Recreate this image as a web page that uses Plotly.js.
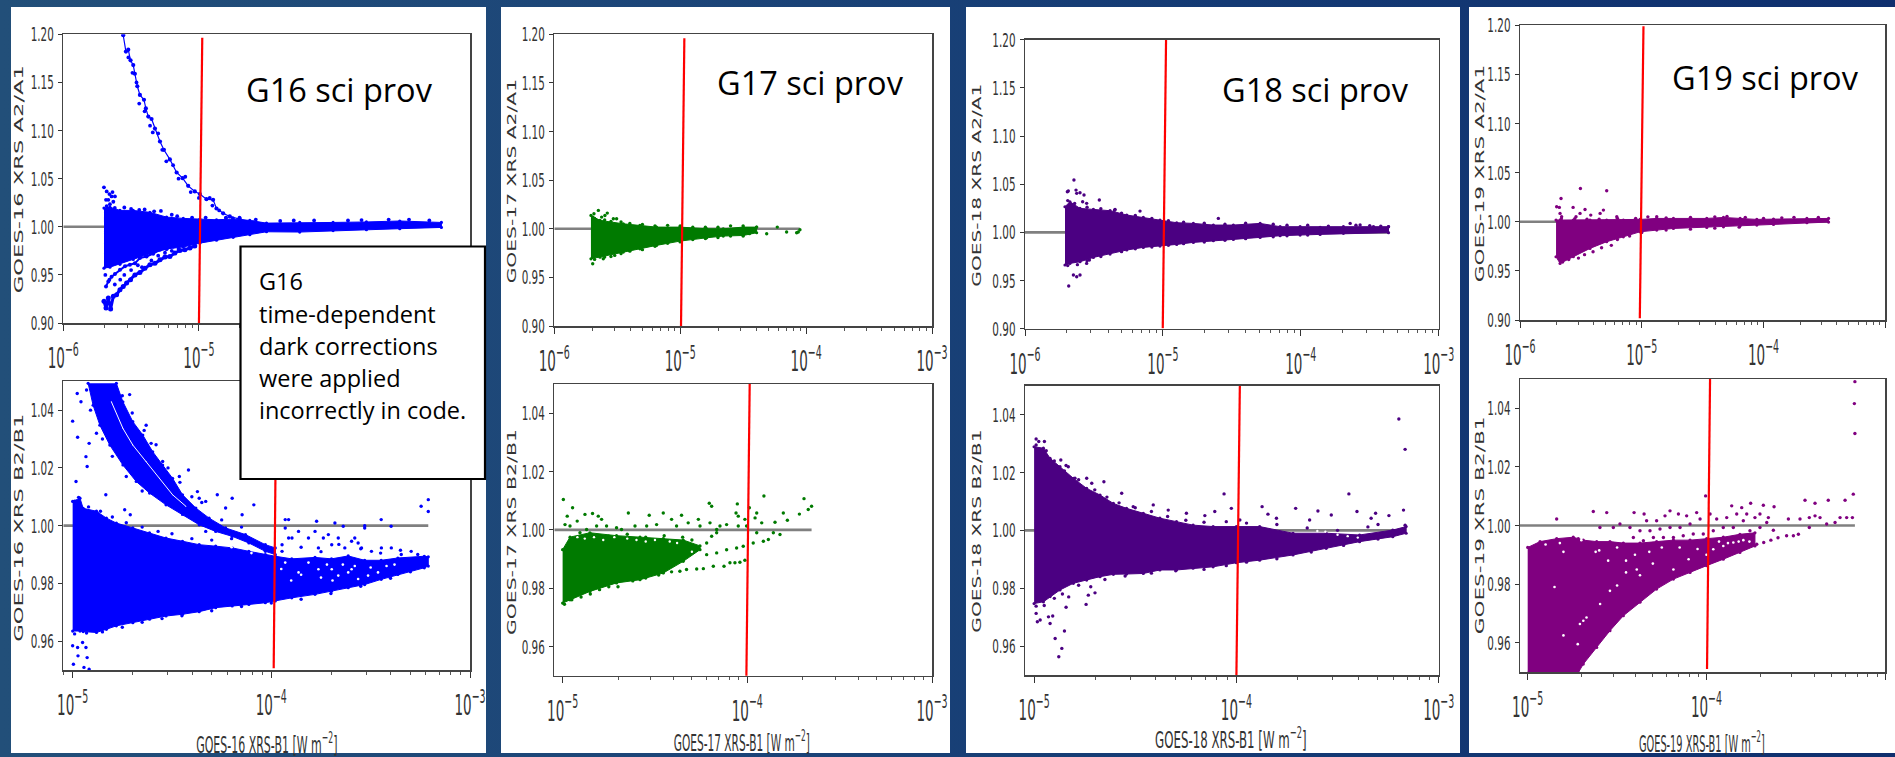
<!DOCTYPE html>
<html><head><meta charset="utf-8">
<script src="https://cdn.plot.ly/plotly-3.0.1.min.js"></script>
<style>html,body{margin:0;padding:0;width:1895px;height:757px;overflow:hidden;background:linear-gradient(90deg,#224f79 0%,#1c4578 35%,#143a74 65%,#0f2f6e 100%)}#c{width:1895px;height:757px}</style>
</head><body><div id="c"></div>
<script>
// ---- values (x as log10 of W m-2, y as ratio) ----
const g16aX=[-5.70,-5.656,-5.582,-5.484,-5.361,-5.238,-5.115,-4.993,-4.87,-4.747,-4.624,-4.501,-4.256,-4.01,-3.764,-3.518,-3.211];
const g16aHi=[1.0194,1.0204,1.017,1.017,1.015,1.010,1.0087,1.008,1.0073,1.008,1.0066,1.0038,1.0045,1.0045,1.005,1.006,1.0045];
const g16aLo=[.957,.958,.961,.966,.972,.977,.979,.983,.986,.989,.9917,.9948,.9945,.996,.9969,.998,.9993];
const g16aArmAX=[-5.70,-5.685,-5.668,-5.651,-5.631,-5.607,-5.582,-5.558,-5.533,-5.504,-5.472,-5.435,-5.398,-5.361,-5.324,-5.287,-5.25,-5.214,-5.177,-5.14,-5.103,-5.066,-5.03];
const g16aArmAY=[.9225,.9156,.926,.9145,.9277,.9294,.9346,.938,.9415,.945,.950,.9526,.957,.9606,.962,.9657,.9685,.969,.9727,.9754,.976,.978,.980];
const g16aArmBX=[-5.685,-5.668,-5.644,-5.619,-5.582,-5.545,-5.509,-5.472,-5.435,-5.386,-5.337,-5.287,-5.238,-5.189];
const g16aArmBY=[.938,.943,.948,.951,.9554,.959,.9606,.962,.9675,.969,.972,.976,.9768,.9796];
const g16aDotX=[-5.70,-5.68,-5.66,-5.637,-5.644,-5.619,-5.668,-5.631,-5.656,-5.685,-5.68,-5.62,-5.55,-5.5,-5.44,-5.4,-5.33,-5.28,-5.2,-5.16,-5.05,-4.95,-4.8,-4.7,-4.58,-4.4,-4.3,-4.15,-3.9,-3.8,-3.6,-3.45,-3.3,-5.69,-5.66,-5.62,-5.58,-5.55,-5.5,-5.45,-5.42,-5.35,-5.3,-5.25,-5.2,-5.15,-5.52,-5.49,-5.46,-5.44,-5.4,-5.36,-5.34,-5.3,-5.27,-5.24,-5.19,-5.15,-5.1,-5.06,-5,-4.92,-4.9,-4.85,-4.8,-4.75];
const g16aDotY=[1.041,1.0367,1.034,1.036,1.0315,1.0315,1.028,1.026,1.0235,1.028,1.0215,1.0195,1.02,1.0185,1.0175,1.018,1.016,1.0165,1.0125,1.011,1.0095,1.0095,1.0095,1.0095,1.0075,1.006,1.0065,1.0065,1.0065,1.007,1.0075,1.0075,1.0065,.95,.945,.94,.945,.95,.955,.96,.958,.965,.97,.973,.975,.977,1.176,1.16,1.15,1.128,1.12,1.105,1.098,1.097,1.08,1.068,1.064,1.05,1.052,1.036,1.03,1.03,1.022,1.017,1.009,1.009];
const g16aBranchX=[-5.558,-5.538,-5.521,-5.504,-5.484,-5.472,-5.454,-5.435,-5.405,-5.391,-5.373,-5.349,-5.324,-5.287,-5.258,-5.214,-5.164,-5.12,-5.079,-5.03,-4.993,-4.944,-4.895,-4.87,-4.821,-4.772,-4.698,-4.6];
const g16aBranchY=[1.199,1.182,1.184,1.173,1.168,1.159,1.146,1.137,1.132,1.123,1.1145,1.112,1.102,1.0886,1.080,1.070,1.0564,1.0505,1.0425,1.0367,1.034,1.0287,1.028,1.019,1.014,1.0107,1.008,1.0045];

const g16bX=[-5,-4.963,-4.947,-4.88,-4.83,-4.78,-4.697,-4.613,-4.53,-4.447,-4.363,-4.28,-4.197,-4.113,-4.03,-3.98,-3.897,-3.78,-3.697,-3.613,-3.53,-3.447,-3.363,-3.23,-3.21];
const g16bHi=[1.0084,1.0095,1.006,1.005,1.0026,1.0009,.9992,.9975,.9957,.9946,.9934,.9929,.9923,.9911,.99,.9894,.9885,.989,.9885,.9895,.988,.988,.9888,.9894,.9892];
const g16bLo=[.9635,.9635,.9633,.963,.9641,.9653,.9664,.9676,.9687,.9693,.9702,.9716,.9722,.9727,.9733,.9739,.975,.9762,.9773,.9785,.9796,.9814,.9831,.9854,.986];
const g16bBandUpX=[-4.78,-4.747,-4.697,-4.647,-4.597,-4.547,-4.497,-4.447,-4.38,-4.313,-4.23,-4.13,-4.03,-3.98];
const g16bBandUpY=[1.0493,1.0429,1.036,1.0314,1.0256,1.021,1.0164,1.0107,1.0061,1.0026,.9992,.9969,.9934,.9923];
const g16bBandLoX=[-4.922,-4.897,-4.863,-4.813,-4.747,-4.68,-4.613,-4.53,-4.447,-4.363,-4.28,-4.197,-4.113,-4.03,-3.98];
const g16bBandLoY=[1.0493,1.0417,1.0348,1.0279,1.021,1.0153,1.0113,1.0072,1.0038,1.0003,.998,.9963,.994,.9911,.99];
const g16bGapX=[-4.805,-4.747,-4.697,-4.63,-4.563,-4.497,-4.43];
const g16bGapY=[1.0429,1.0337,1.0279,1.0222,1.0164,1.0107,1.0067];
const g16bDotX=[-5,-4.975,-4.917,-4.933,-4.927,-4.983,-4.833,-4.958,-4.977,-4.738,-4.71,-4.63,-4.713,-4.605,-4.547,-4.417,-4.463,-4.372,-4.363,-4.33,-4.272,-4.197,-4.088,-4.147,-4.23,-3.93,-3.913,-3.772,-3.68,-3.638,-3.53,-3.447,-3.397,-3.246,-3.21,-3.21,-5,-4.975,-4.996,-4.973,-4.95,-4.933,-4.927,-4.943,-4.917,-3.93,-3.863,-3.896,-3.813,-3.78,-3.738,-3.713,-3.663,-3.596,-3.563,-3.58,-3.696,-3.63,-3.546,-3.496,-3.763,-3.946,-3.946,-3.913,-3.396,-3.446,-3.346,-3.296,-3.263,-3.53,-4.99,-4.97,-4.92,-4.86,-4.8,-4.73,-4.65,-4.57,-4.5,-4.4,-4.3,-4.99,-4.93,-4.85,-4.75,-4.65,-4.55,-4.45,-4.3,-4.15,-4,-3.85,-3.7,-3.55,-3.4,-3.3,-4.93,-4.91,-4.88,-4.85,-4.8,-4.73,-4.65,-4.75,-4.7,-4.64,-4.58,-4.52,-4.46,-4.4,-4.35,-4.25,-4.15,-4.33,-4.2,-3.85,-3.75,-3.66,-3.55,-3.45,-3.35];
const g16bDotY=[1.0362,1.0306,1.0285,1.0239,1.0205,1.0153,1.0107,1.0429,1.0458,1.0055,1.0038,1.0348,1.0454,1.0285,1.0222,1.0193,1.017,1.0118,1.0095,1.0084,1.0107,1.0095,1.0072,1.0038,1.0061,1.0021,1.0021,1.0015,1.0009,.9998,1.0,1.0021,.9998,1.0067,1.009,1.0049,.9584,.9578,.952,.9549,.9595,.9578,.9543,.9509,.9503,.9992,.998,.9957,.9957,.998,.9957,.9969,.9957,.9946,.994,.9957,.9934,.9923,.9923,.9911,.9923,.9934,.9911,.9957,.9923,.9923,.99,.9911,.99,.9992,1.0085,1.0098,1.0065,1.005,1.003,1.001,.9995,.998,.9972,.9955,.995,.9625,.9628,.9632,.9648,.9665,.9678,.9688,.9705,.972,.9732,.9745,.9765,.979,.9818,.984,1.047,1.04,1.032,1.03,1.024,1.017,1.012,1.045,1.039,1.033,1.028,1.02,1.015,1.01,1.008,1.002,.9995,.998,.9955,.9925,.991,.9935,.992,.9905,.9915];
const g16bHoleX=[-3.692,-3.663,-3.613,-3.563,-3.513,-3.463,-3.93,-3.863,-3.813,-3.763,-3.696,-3.596,-3.95,-3.9,-3.85,-3.75,-3.72,-3.64,-3.58,-3.5,-3.42,-3.38,-4.2,-4.1,-4.35,-4.45];
const g16bHoleY=[.981,.9827,.9838,.9815,.9827,.9838,.9872,.9838,.9872,.9849,.9849,.9849,.985,.981,.983,.982,.9865,.9865,.986,.9855,.986,.9865,.9925,.9905,.998,1.003];

const g17aX=[-5.709,-5.637,-5.452,-5.32,-5.188,-5.002,-4.79,-4.658,-4.5,-4.393];
const g17aHi=[1.0137,1.0086,1.0051,1.0034,1.0017,1.0017,1.0,1.0,1.0017,1.0017];
const g17aLo=[.9691,.9708,.976,.9794,.9829,.9873,.9907,.9925,.9931,.9959];
const g17aDotX=[-5.695,-5.685,-5.65,-5.598,-5.579,-5.611,-5.531,-5.505,-5.664,-5.624,-5.695,-5.611,-5.52,-4.393,-4.313,-4.229,-4.155,-4.075,-4.049,-4.062,-4.446,-5.68,-5.6,-5.55,-5.47,-5.4,-5.3,-5.2,-5.1,-5,-4.9,-4.8,-4.7,-4.6,-4.5,-5.68,-5.6,-5.55,-5.47,-5.4,-5.3,-5.2,-5.1,-5,-4.9,-4.8,-4.7,-4.6,-4.5,-4.45];
const g17aDotY=[1.012,1.0154,1.0189,1.0137,1.0161,1.0069,1.0103,1.0103,1.0086,1.012,.964,.9691,.9726,1.0017,.9949,1.0017,.9966,.9959,.999,.9966,.999,1.0105,1.009,1.0075,1.007,1.0055,1.0045,1.003,1.0035,1.003,1.0015,1.0015,1.0015,1.003,1.003,.9685,.971,.9715,.9745,.977,.9785,.982,.985,.9865,.989,.99,.991,.9925,.9925,.995];

const g17bX=[-5,-4.96,-4.852,-4.708,-4.581,-4.455,-4.347,-4.256];
const g17bHi=[.9932,.9975,.999,.998,.9975,.997,.9965,.9945];
const g17bLo=[.9749,.976,.9789,.9818,.9829,.9852,.9892,.9932];
const g17bDotX=[-4.996,-4.946,-4.975,-4.987,-4.96,-4.921,-4.879,-4.838,-4.807,-4.789,-4.906,-4.87,-4.816,-4.762,-4.708,-4.681,-4.644,-4.608,-4.531,-4.545,-4.455,-4.491,-4.41,-4.356,-4.383,-4.32,-4.265,-4.256,-4.202,-4.193,-4.206,-4.148,-4.166,-4.112,-4.049,-4.054,-4.061,-4.049,-3.989,-4.013,-4.004,-3.949,-3.958,-3.922,-3.91,-3.85,-3.805,-3.783,-3.718,-3.693,-3.67,-3.652,-3.949,-3.913,-3.859,-3.823,-3.886,-3.968,-4.022,-4.058,-4.112,-4.166,-4.22,-4.455,-4.41,-4.365,-4.329,-4.274,-4.238,-4.184,-4.126,-4.094,-4.067,-4.04,-4.013,-4.22,-4.193,-4.166,-4.9,-4.85,-4.75,-4.65,-4.55,-4.45,-4.35,-4.3,-4.99,-4.95,-4.9,-4.85,-4.8,-4.75,-4.7,-4.62,-4.55,-4.48];
const g17bDotY=[1.0104,1.0076,1.0047,1.0018,1.0013,1.003,1.0053,1.0056,1.0047,1.0036,.999,1.0001,1.0013,1.0013,1.0007,1.0001,1.0058,1.0013,1.005,1.0013,1.0058,1.0018,1.0036,1.005,1.0013,1.0024,1.0036,1.0013,1.0024,1.0081,1.0091,1.0013,1.0001,1.0018,1.0013,1.0089,1.0058,1.0047,1.0076,1.0036,1.0013,1.0058,1.0041,1.0024,1.0116,1.0026,1.0058,1.0033,1.0054,1.0107,1.007,1.0081,.999,.9961,.999,.9984,.9967,.9955,.9944,.9938,.9932,.9921,.9915,.9854,.9856,.9858,.9864,.9866,.9867,.9875,.9875,.9887,.9887,.9889,.9896,.9955,.9978,.999,.9975,.997,.9978,.9985,.9975,.998,.9975,.9965,.9745,.976,.977,.978,.9795,.9805,.9805,.9825,.9835,.9845];
const g17bHoleX=[-4.92,-4.88,-4.83,-4.78,-4.72,-4.65,-4.6,-4.55,-4.5,-4.42,-4.38,-4.3];
const g17bHoleY=[.9975,.997,.9975,.9965,.9975,.997,.9965,.996,.9965,.996,.9955,.9925];

const g18aX=[-5.71,-5.674,-5.601,-5.504,-5.383,-5.262,-5.142,-5.021,-4.9,-4.779,-4.634,-4.489,-4.295,-4.15,-4.005,-3.86,-3.691,-3.364];
const g18aHi=[1.0266,1.0318,1.0249,1.0239,1.0225,1.018,1.0156,1.0128,1.01,1.0093,1.0076,1.0076,1.0093,1.0059,1.0059,1.0052,1.0059,1.0059];
const g18aLo=[.9661,.9678,.9695,.974,.9775,.9817,.9844,.9858,.9875,.9896,.9913,.9927,.9948,.9965,.9972,.9979,.999,.9997];
const g18aDotX=[-5.686,-5.645,-5.693,-5.63,-5.625,-5.601,-5.572,-5.582,-5.553,-5.461,-5.347,-5.166,-4.598,-3.364,-3.473,-3.642,-3.57,-5.649,-5.625,-5.601,-5.683,-5.553,-5.533,-5.69,-5.64,-5.55,-5.45,-5.35,-5.3,-5.2,-5.08,-4.96,-4.85,-4.7,-4.55,-4.4,-4.2,-4.1,-3.95,-3.8,-3.6,-3.5,-3.42,-5.69,-5.62,-5.55,-5.45,-5.3,-5.2,-5.08,-4.96,-4.85,-4.7,-4.55,-4.4,-4.2,-4.1,-3.95];
const g18aDotY=[1.0429,1.0543,1.0422,1.0439,1.0405,1.0412,1.0388,1.0318,1.0301,1.0336,1.0239,1.0221,1.0145,1.0059,1.0059,1.0093,1.0076,.9557,.954,.9557,.9443,.9678,.9713,1.033,1.03,1.026,1.0245,1.023,1.02,1.0175,1.0145,1.012,1.0105,1.0095,1.0085,1.0095,1.0085,1.0075,1.0075,1.0065,1.0075,1.007,1.0065,.9655,.9665,.9705,.975,.98,.983,.9848,.9865,.9883,.99,.9918,.9935,.9955,.9965,.9973];

const g18bX=[-5,-4.954,-4.921,-4.872,-4.806,-4.74,-4.674,-4.608,-4.543,-4.46,-4.378,-4.296,-4.214,-4.115,-4,-3.885,-3.72,-3.556,-3.391,-3.227,-3.161];
const g18bHi=[1.0289,1.0284,1.0249,1.022,1.018,1.0145,1.0122,1.0093,1.0076,1.0059,1.0042,1.003,1.0018,1.0013,1.0013,1.0013,.999,.999,.9984,1.0001,1.0013];
const g18bLo=[.9747,.9753,.9771,.9794,.9817,.9828,.984,.9848,.9849,.9851,.9863,.9863,.9869,.9874,.9888,.9897,.9915,.9938,.9961,.9978,.999];
const g18bDotX=[-4.99,-4.977,-4.949,-4.951,-4.868,-4.842,-4.831,-4.798,-4.74,-4.715,-4.655,-4.567,-4.51,-4.411,-4.337,-4.247,-4.156,-4.107,-4.061,-4.025,-3.983,-3.873,-3.844,-3.802,-3.707,-3.597,-3.531,-3.404,-3.444,-3.312,-3.246,-3.197,-3.166,-3.174,-3.166,-3.334,-3.638,-4.99,-4.97,-4.984,-4.929,-4.921,-4.908,-4.896,-4.85,-4.842,-4.829,-4.863,-4.878,-4.743,-4.732,-4.72,-4.699,-4.99,-4.94,-4.9,-4.85,-4.78,-4.7,-4.64,-4.58,-4.5,-4.42,-4.34,-4.25,-4.16,-4.05,-3.95,-3.8,-3.65,-3.5,-3.35,-3.3,-4.99,-4.95,-4.9,-4.86,-4.78,-4.65,-4.55,-4.42,-4.3,-4.16,-4.05,-3.95,-3.8,-3.63,-3.47,-3.3];
const g18bDotY=[1.0316,1.0307,1.0307,1.0272,1.0243,1.0224,1.022,1.018,1.018,1.0163,1.0168,1.0128,1.0082,1.0088,1.007,1.0059,1.0051,1.0065,1.0126,1.0076,1.0036,1.0082,1.0056,1.0042,1.0076,1.0067,1.0053,1.0065,1.0126,1.0059,1.0051,1.0385,1.028,1.007,1.0018,1.0042,1.0036,.9713,.969,.9684,.9701,.9678,.9704,.9626,.9652,.9734,.977,.9592,.9563,.9744,.9776,.9805,.9784,1.0295,1.0275,1.024,1.0205,1.0175,1.014,1.0115,1.0095,1.0078,1.0065,1.0048,1.0035,1.0028,1.003,1.0025,1.002,1.0008,1.0,1.0012,1.002,.9738,.974,.9765,.978,.981,.983,.9842,.9852,.986,.9865,.9878,.989,.9902,.9925,.9948,.997];
const g18bHoleX=[-3.6,-3.56,-3.5,-3.45,-3.4];
const g18bHoleY=[.9998,.9995,.9985,.998,.9975];

const g19aX=[-5.704,-5.671,-5.562,-5.425,-5.288,-5.151,-5.014,-4.877,-4.74,-4.466,-4.329,-4.192,-4.055,-3.918,-3.644,-3.466];
const g19aHi=[1.0017,1.0017,1.0017,1.0017,1.0017,1.0017,1.0024,1.0034,1.0034,1.0034,1.0044,1.0034,1.0024,1.0027,1.0034,1.0034];
const g19aLo=[.9644,.9576,.9644,.9729,.9797,.9847,.9898,.9915,.9932,.9942,.9949,.9959,.9966,.9973,.999,.9997];
const g19aDotX=[-5.699,-5.677,-5.663,-5.671,-5.658,-5.504,-5.564,-5.466,-5.507,-5.54,-5.419,-5.342,-5.315,-5.288,-5.205,-4.877,-5.66,-5.55,-5.45,-5.35,-5.2,-5.05,-4.95,-4.8,-4.6,-4.4,-4.3,-4.15,-4,-3.85,-3.75,-3.55,-5.65,-5.6,-5.52,-5.47,-5.4,-5.33,-5.25,-5.2,-5.1,-5,-4.8,-4.6,-4.4,-4.2];
const g19aDotY=[1.0153,1.0146,1.0237,1.0085,1.0051,1.0339,1.0146,1.0125,1.0085,1.0051,1.0068,1.0085,1.0119,1.0315,1.0051,1.0051,1.003,1.003,1.0025,1.0025,1.0035,1.0035,1.005,1.004,1.0045,1.005,1.0055,1.0045,1.0035,1.004,1.0045,1.0045,.959,.9615,.963,.9665,.9695,.9735,.976,.982,.9855,.989,.9915,.9925,.9935,.9945];

const g19bX=[-5,-4.931,-4.838,-4.745,-4.717,-4.689,-4.614,-4.54,-4.465,-4.372,-4.279,-4.185,-4.092,-3.999,-3.906,-3.813,-3.729];
const g19bHi=[.9925,.9945,.9955,.996,.9955,.995,.9945,.9945,.994,.994,.9945,.995,.995,.9955,.996,.997,.9975];
const g19bLo=[.9495,.9495,.9495,.9495,.9498,.9527,.9584,.9641,.9692,.9738,.9783,.9817,.984,.9863,.9885,.9908,.993];
const g19bDotX=[-4.838,-4.633,-4.558,-4.405,-4.349,-4.335,-4.279,-4.204,-4.232,-4.157,-4.111,-4.055,-4.005,-3.98,-3.859,-3.803,-3.753,-3.682,-3.622,-3.449,-3.393,-3.319,-3.225,-3.179,-3.173,-3.17,-3.17,-3.216,-3.253,-3.184,-3.365,-3.425,-3.393,-3.542,-3.477,-3.626,-3.552,-3.514,-3.486,-3.425,-3.328,-3.281,-3.719,-3.701,-3.654,-3.729,-3.775,-3.831,-3.887,-3.943,-4.036,-4.092,-4.148,-4.204,-4.26,-4.316,-4.372,-4.428,-4.484,-4.521,-4.596,-3.906,-3.85,-3.794,-3.757,-3.701,-3.663,-3.962,-4.018,-4.074,-4.13,-4.185,-4.241,-4.297,-4.353,-4.409,-3.68,-3.64,-3.6];
const g19bDotY=[1.0022,1.0048,1.0044,1.0044,1.0039,1.0016,1.0016,1.005,1.0033,1.0039,1.0033,1.0044,1.0101,1.0039,1.0067,1.0061,1.0076,1.0069,1.0064,1.0086,1.0076,1.0086,1.0086,1.0107,1.0416,1.0314,1.0491,1.0027,1.0027,1.0027,1.0027,1.0027,1.0033,1.0022,1.0022,.9984,.9965,.9965,.997,.9993,1.0005,1.001,.9936,1.0039,1.0027,1.0027,1.0039,1.0039,1.0027,1.0022,1.0022,1.0005,.9993,.9993,.9988,.9982,.9982,.9993,1.0005,.9993,.9993,.9993,.9993,1.0016,.9982,.9993,1.001,.9982,.9971,.9971,.9965,.9959,.9959,.9959,.9948,.9959,.9942,.995,.9958];
const g19bHoleX=[-4.708,-4.689,-4.671,-4.595,-4.54,-4.5,-4.372,-4.39,-4.185,-3.962,-3.906,-3.85,-3.794,-4.3,-4.45,-4.8,-4.6,-4.55,-4.45,-4.4,-4.32,-4.25,-4.15,-4.1,-4.05,-4,-3.93,-3.88,-3.82,-3.76,-4.9,-4.82,-4.7,-4.62,-4.5,-4.85,-4.8,-4.72];
const g19bHoleY=[.9664,.9675,.9686,.9732,.9777,.9795,.983,.985,.985,.9919,.993,.9942,.995,.987,.984,.991,.9915,.988,.988,.99,.991,.9925,.9925,.9885,.992,.99,.9945,.994,.9945,.9945,.9935,.994,.995,.991,.9925,.979,.9625,.9595];

const refLineLogX=[[-4.975,-5.0],[-3.975,-3.988],[-4.967,-4.994],[-3.987,-4.005],[-4.977,-5.001],[-3.983,-4.0],[-4.986,-5.016],[-3.98,-3.997]];
const refLineY=[[1.1965,.893],[1.0493,.9506],[1.196,.8954],[1.0505,.9497],[1.202,.9004],[1.05,.9494],[1.199,.9017],[1.0507,.951]];
const unityStart=[-6,-5.047,-6,-5.045,-6,-5.045,-6,-5.043];
const unityEnd=[-3.21,-3.21,-4.05,-3.652,-3.364,-3.161,-3.466,-3.17];
const yTicksTop=[.90,.95,1.00,1.05,1.10,1.15,1.20];
const yTicksBottom=[.96,.98,1.00,1.02,1.04];
const sats=['GOES-16','GOES-17','GOES-18','GOES-19'];
const colours=['#0000ff','#007a00','#4b0082','#800080'];

// ---- geometry ----
const W=1895,H=757;
const boxes=[[63.3,470,34.3,323],[63.3,470,381.3,670],[554.3,932,34.3,326],[554.3,932,384,675.7],[1025,1438.7,39.7,328.7],[1025,1438.7,385.7,675],[1520,1885.3,25.3,320],[1520,1885.3,379,672]];
const sheets=[[11,486],[501,950],[966,1460],[1469,1895]];
const px=v=>v/W, py=v=>1-v/H;
const ten=a=>a.map(v=>Math.pow(10,v));

const traces=[];
function ax(i){return {xaxis:'x'+(i===0?'':i+1),yaxis:'y'+(i===0?'':i+1)};}
function unity(i){traces.push({...ax(i),x:ten([unityStart[i],unityEnd[i]]),y:[1,1],mode:'lines',line:{color:'#808080',width:2.6}});}
function poly(i,c,x,y,m){traces.push({...ax(i),x:ten(x),y:y,mode:m?'lines+markers':'lines',fill:'toself',fillcolor:c,line:{color:c,width:1},marker:{color:c,size:3.2}});}
function cloud(i,c,x,hi,lo){poly(i,c,x.concat(x.slice().reverse()),hi.concat(lo.slice().reverse()),true);}
function dots(i,c,x,y,s){traces.push({...ax(i),x:ten(x),y:y,mode:'markers',marker:{color:c,size:s||3.4}});}
function chain(i,c,x,y,w,s){traces.push({...ax(i),x:ten(x),y:y,mode:'lines+markers',line:{color:c,width:w},marker:{color:c,size:s}});}
function red(i){traces.push({...ax(i),x:ten(refLineLogX[i]),y:refLineY[i],mode:'lines',line:{color:'#ff0000',width:2.2},cliponaxis:false});}

// G16 A
unity(0);cloud(0,colours[0],g16aX,g16aHi,g16aLo);chain(0,colours[0],g16aArmAX,g16aArmAY,3,5);chain(0,colours[0],g16aArmBX,g16aArmBY,2,4);dots(0,colours[0],g16aDotX,g16aDotY,3.8);chain(0,colours[0],g16aBranchX,g16aBranchY,1.2,4.2);red(0);
// G16 B
unity(1);cloud(1,colours[0],g16bX,g16bHi,g16bLo);poly(1,colours[0],g16bBandUpX.concat(g16bBandLoX.slice().reverse()),g16bBandUpY.concat(g16bBandLoY.slice().reverse()),true);chain(1,'#ffffff',g16bGapX,g16bGapY,1,1);dots(1,colours[0],g16bDotX,g16bDotY);dots(1,'#ffffff',g16bHoleX,g16bHoleY,2.6);red(1);
// G17 A
unity(2);cloud(2,colours[1],g17aX,g17aHi,g17aLo);dots(2,colours[1],g17aDotX,g17aDotY);red(2);
// G17 B
unity(3);cloud(3,colours[1],g17bX,g17bHi,g17bLo);dots(3,colours[1],g17bDotX,g17bDotY);dots(3,'#ffffff',g17bHoleX,g17bHoleY,2.4);red(3);
// G18 A
unity(4);cloud(4,colours[2],g18aX,g18aHi,g18aLo);dots(4,colours[2],g18aDotX,g18aDotY);red(4);
// G18 B
unity(5);cloud(5,colours[2],g18bX,g18bHi,g18bLo);dots(5,colours[2],g18bDotX,g18bDotY);dots(5,'#ffffff',g18bHoleX,g18bHoleY,2.4);red(5);
// G19 A
unity(6);cloud(6,colours[3],g19aX,g19aHi,g19aLo);dots(6,colours[3],g19aDotX,g19aDotY);red(6);
// G19 B
unity(7);cloud(7,colours[3],g19bX,g19bHi,g19bLo);dots(7,colours[3],g19bDotX,g19bDotY);dots(7,'#ffffff',g19bHoleX,g19bHoleY,2.6);red(7);

const yTickFont={family:'DejaVu Sans',size:20,color:'#333'};
const xTickFont={family:'DejaVu Sans',size:23,color:'#333'};
const layout={width:W,height:H,margin:{l:0,r:0,t:0,b:0},paper_bgcolor:'rgba(0,0,0,0)',plot_bgcolor:'rgba(0,0,0,0)',showlegend:false,hovermode:false,shapes:[],annotations:[]};
const lefts=[-6,-5.047,-6,-5.045,-6,-5.045,-6,-5.043];
boxes.forEach((b,i)=>{
  const s=i===0?'':i+1;
  layout['xaxis'+s]={type:'log',domain:[px(b[0]),px(b[1])],range:[lefts[i],-3],anchor:'y'+s,dtick:1,exponentformat:'power',showgrid:false,zeroline:false,showline:true,mirror:true,linecolor:'#444',linewidth:1.5,ticks:'outside',ticklen:6,tickcolor:'#333',tickwidth:1,tickfont:xTickFont,ticklabelstandoff:4,minor:{ticks:'outside',ticklen:3,tickcolor:'#555',tickwidth:1,dtick:'D1',showgrid:false}};
  layout['yaxis'+s]={domain:[py(b[3]),py(b[2])],range:i%2?[.95,1.05]:[.90,1.20],anchor:'x'+s,tickvals:i%2?yTicksBottom:yTicksTop,tickformat:'.2f',showgrid:false,zeroline:false,showline:true,mirror:true,linecolor:'#444',linewidth:1.5,ticks:'outside',ticklen:4,tickcolor:'#333',tickwidth:1,tickfont:yTickFont};
});
sheets.forEach(s=>layout.shapes.push({type:'rect',xref:'paper',yref:'paper',x0:px(s[0]),x1:px(s[1]),y0:py(753),y1:py(7),fillcolor:'#ffffff',line:{width:0},layer:'below'}));
layout.shapes.push({type:'rect',xref:'paper',yref:'paper',x0:px(240.5),x1:px(485),y0:py(479),y1:py(246.5),fillcolor:'#ffffff',line:{color:'#000',width:2.2},layer:'above'});

const scales=[];
function note(text,x,y,size,fam,sx,opts){layout.annotations.push(Object.assign({text:text,xref:'paper',yref:'paper',x:px(x),y:py(y),xanchor:'center',yanchor:'middle',showarrow:false,font:{family:fam,size:size,color:'#000'}},opts||{}));scales.push(sx);}
// panel captions
const capX=[339.5,810,1315,1765],capY=[89,82,89,77];
['G16 sci prov','G17 sci prov','G18 sci prov','G19 sci prov'].forEach((t,i)=>note(t,capX[i],capY[i],32.5,'Open Sans',1));
// text box
[['G16',281],['time-dependent',314],['dark corrections',346],['were applied',378],['incorrectly in code.',410]].forEach(l=>note(l[0],257,l[1],23.5,'Open Sans',1,{xanchor:'left'}));
// y titles
const ytX=[18.7,18.5,510.7,510.7,975.7,975.7,1479,1479],ytY=[179,527.7,181,532,185,531,174,526],ytS=[1.74,1.74,1.56,1.57,1.55,1.55,1.66,1.66];
boxes.forEach((b,i)=>{const n=sats[i>>1];note(n+' XRS '+(i%2?'B2/B1':'A2/A1'),ytX[i],ytY[i],13,'DejaVu Sans',ytS[i],{textangle:-90,font:{family:'DejaVu Sans',size:13,color:'#333'}});});
// x titles
const xtX=[267,742,1231,1702],xtY=[743,741,738,741.7],xtS=[.478,.461,.513,.426];
sats.forEach((n,i)=>note(n+' XRS-B1 [W m<sup>−2</sup>]',xtX[i],xtY[i],23,'DejaVu Sans',xtS[i],{font:{family:'DejaVu Sans',size:23,color:'#333'}}));

function squeeze(t,sx){const x=+(t.getAttribute('x')||0),y=+(t.getAttribute('y')||0),old=t.getAttribute('transform')||'';t.setAttribute('transform',old+' translate('+x+' '+y+') scale('+sx+' 1) translate('+(-x)+' '+(-y)+')');}
Plotly.newPlot('c',traces,layout,{staticPlot:true,displayModeBar:false}).then(()=>{
  document.querySelectorAll('.xaxislayer-above text').forEach(t=>squeeze(t,.47));
  document.querySelectorAll('.yaxislayer-above text').forEach(t=>squeeze(t,.52));
  document.querySelectorAll('.annotation').forEach(g=>{const k=+g.getAttribute('data-index'),t=g.querySelector('text');if(t&&scales[k]!==1)squeeze(t,scales[k]);});
});
</script>
</body></html>
